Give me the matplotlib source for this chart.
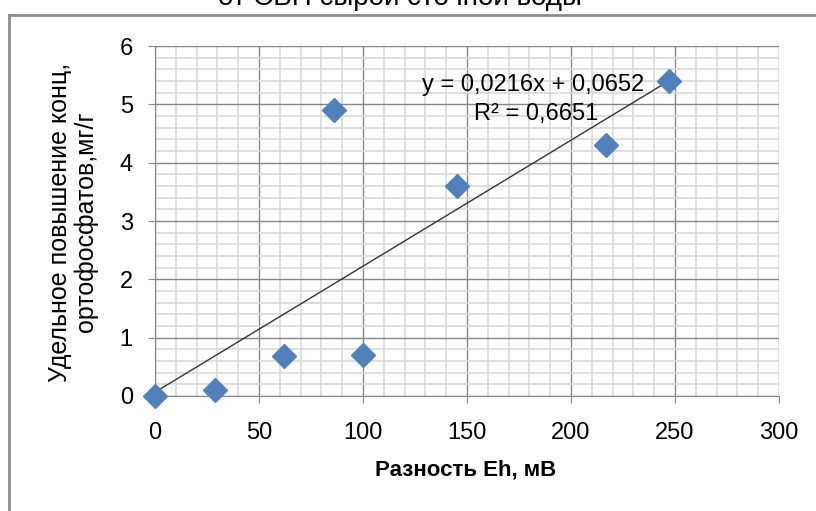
import matplotlib
matplotlib.use("Agg")
import matplotlib.pyplot as plt
from matplotlib.lines import Line2D
import numpy as np

plt.rcParams['font.family'] = ['Liberation Sans', 'DejaVu Sans']

# data
eh_diff = [0, 29, 62, 86, 100, 145, 217, 247]
phosphate = [0, 0.1, 0.68, 4.9, 0.7, 3.6, 4.3, 5.4]

# trendline as printed on the chart
slope, intercept = 0.0216, 0.0652
eq_text = "y = 0,0216x + 0,0652"
r2_text = "R² = 0,6651"

title = "от СВП сырой сточной воды"
xlabel = "Разность Eh, мВ"
ylabel = "Удельное повышение конц,\nортофосфатов,мг/г"

fig = plt.figure(figsize=(8.16, 5.11), dpi=100)
ax = fig.add_axes([155/816, 1 - 396/511, (779 - 155)/816, (396 - 46)/511])

ax.set_xlim(0, 300)
ax.set_ylim(0, 6)
ax.set_xticks(np.arange(0, 301, 50))
ax.set_yticks(np.arange(0, 7, 1))
ax.set_xticks(np.arange(0, 301, 10), minor=True)
ax.set_yticks(np.arange(0, 6.01, 0.2), minor=True)
ax.grid(which='minor', color='#d9d9d9', lw=1.2)
ax.grid(which='major', color='#868686', lw=1.0)
ax.set_axisbelow(True)

for s in ['top', 'right']:
    ax.spines[s].set_visible(False)
for s in ['left', 'bottom']:
    ax.spines[s].set_color('#868686')
ax.tick_params(which='major', length=5, color='#868686', labelsize=17)
ax.tick_params(axis='x', pad=14)
ax.tick_params(axis='y', pad=11)
ax.tick_params(which='minor', length=0)

xs = np.array([0, max(eh_diff)])
ax.plot(xs, slope * xs + intercept, color='#333333', lw=1.0, zorder=3)
ax.plot(eh_diff, phosphate, 'D', color='#4f81bd', ms=12, mec='#4f81bd',
        zorder=4, clip_on=False)

ax.text(182, 5.33, eq_text, ha='center', va='center', fontsize=17, zorder=5)
ax.text(183, 4.83, r2_text, ha='center', va='center', fontsize=17, zorder=5)

fig.text(466/816, 1 - 470/511, xlabel, ha='center', va='center',
         fontsize=16, fontweight='bold')
fig.text(73/816, 1 - 222/511, ylabel, ha='center', va='center', rotation=90,
         fontsize=18, linespacing=1.1, multialignment='center')

fig.text(400/816, 1 - 5/511, title, ha='center', va='baseline', fontsize=20)

# chart border (partly cropped)
fig.add_artist(Line2D([9/816, 9/816], [0, 1 - 15/511], color='#8c8c8c', lw=2,
                      transform=fig.transFigure))
fig.add_artist(Line2D([9/816, 1], [1 - 15/511, 1 - 15/511], color='#8c8c8c', lw=2,
                      transform=fig.transFigure))

fig.savefig("out.png", dpi=100)
